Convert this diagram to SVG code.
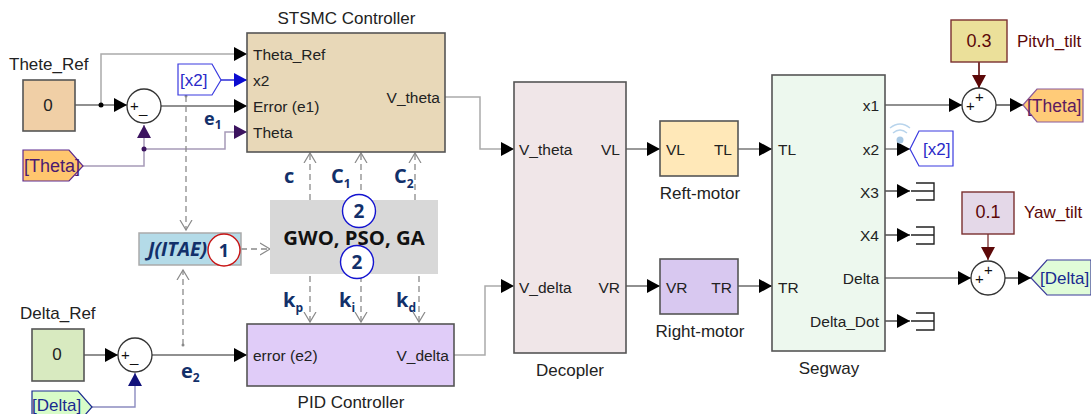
<svg xmlns="http://www.w3.org/2000/svg" width="1091" height="414" viewBox="0 0 1091 414">
<defs>
<marker id="ab" markerUnits="userSpaceOnUse" markerWidth="14" markerHeight="14" refX="13" refY="7" orient="auto"><path d="M0 0L13 7L0 14Z" fill="#000"/></marker>
<marker id="ablue" markerUnits="userSpaceOnUse" markerWidth="14" markerHeight="14" refX="13" refY="7" orient="auto"><path d="M0 0L13 7L0 14Z" fill="#0b0bd0"/></marker>
<marker id="apur" markerUnits="userSpaceOnUse" markerWidth="14" markerHeight="14" refX="13" refY="7" orient="auto"><path d="M0 0L13 7L0 14Z" fill="#3c1460"/></marker>
<marker id="anavy" markerUnits="userSpaceOnUse" markerWidth="14" markerHeight="14" refX="13" refY="7" orient="auto"><path d="M0 0L13 7L0 14Z" fill="#10107a"/></marker>
<marker id="ared" markerUnits="userSpaceOnUse" markerWidth="14" markerHeight="14" refX="13" refY="7" orient="auto"><path d="M0 0L13 7L0 14Z" fill="#5c0808"/></marker>
<marker id="opn" markerUnits="userSpaceOnUse" markerWidth="12" markerHeight="14" refX="10" refY="7" orient="auto"><path d="M0 1L10 7L0 13" fill="none" stroke="#8a8a8a" stroke-width="1.2"/></marker>
</defs>
<style>
text{font-family:"Liberation Sans",Arial,sans-serif;font-size:15.5px;fill:#222}
.b{stroke:#555;stroke-width:1.6}
.sum{fill:#fff;stroke:#333;stroke-width:1.3}
.w{fill:none;stroke:#222;stroke-width:1.2}
.g{fill:none;stroke:#aaa;stroke-width:1.5}
.d{fill:none;stroke:#8a8a8a;stroke-width:1.3;stroke-dasharray:6 4}
.m{font-family:"Open Sans","Noto Sans",sans-serif;font-weight:700;fill:#12306a}
.t{fill:none;stroke:#222;stroke-width:1.4}
.cap{font-size:17px}
.val{font-size:17px}
.op{font-size:15px;fill:#111}
</style>

<g id="connectors">
<path class="w" d="M75 105H127" marker-end="url(#ab)"/>
<path class="g" d="M101 105V54H247" marker-end="url(#ab)"/>
<circle cx="101" cy="105" r="2.5" fill="#000"/>
<path d="M221 80H247" fill="none" stroke="#0b0bd0" stroke-width="1.3" marker-end="url(#ablue)"/>
<path class="w" d="M161 106H247" marker-end="url(#ab)"/>
<path d="M83 166H144V125" fill="none" stroke="#a79ab8" stroke-width="1.5" marker-end="url(#apur)"/>
<path d="M144 149H225V132H247" fill="none" stroke="#a79ab8" stroke-width="1.5" marker-end="url(#apur)"/>
<circle cx="144" cy="149" r="2.5" fill="#3c1460"/>
<path class="d" d="M186 96V230" marker-end="url(#opn)"/>
<circle cx="186" cy="96" r="1.5" fill="#8a8a8a"/>
<path class="d" d="M183 345V270" marker-end="url(#opn)"/>
<circle cx="183" cy="345" r="1.5" fill="#8a8a8a"/>
<path class="d" d="M241 249H270" marker-end="url(#opn)"/>
<path class="d" d="M310 200V153" marker-end="url(#opn)"/>
<path class="d" d="M361 200V153" marker-end="url(#opn)"/>
<path class="d" d="M415 200V153" marker-end="url(#opn)"/>
<path class="d" d="M310 276V322" marker-end="url(#opn)"/>
<path class="d" d="M361 276V322" marker-end="url(#opn)"/>
<path class="d" d="M419 276V322" marker-end="url(#opn)"/>
<path class="w" d="M84 355H118" marker-end="url(#ab)"/>
<path class="w" d="M152 355H247" marker-end="url(#ab)"/>
<path d="M92 407H135V373" fill="none" stroke="#8c8cc0" stroke-width="1.4" marker-end="url(#anavy)"/>
<path class="g" d="M445 97H480V149H514" marker-end="url(#ab)"/>
<path class="g" d="M454 355H485V286H514" marker-end="url(#ab)"/>
<path d="M626 149H660" fill="none" stroke="#777" stroke-width="1.4" marker-end="url(#ab)"/>
<path d="M738 149H772" fill="none" stroke="#777" stroke-width="1.4" marker-end="url(#ab)"/>
<path class="w" d="M626 286H660" marker-end="url(#ab)"/>
<path class="w" d="M738 286H772" marker-end="url(#ab)"/>
<path class="w" d="M885 105H962" marker-end="url(#ab)"/>
<path class="w" d="M996 105H1023" marker-end="url(#ab)"/>
<path d="M979 62V88" fill="none" stroke="#5c0808" stroke-width="1.6" marker-end="url(#ared)"/>
<path d="M885 149H910" fill="none" stroke="#777" stroke-width="1.4" marker-end="url(#ab)"/>
<path class="w" d="M885 191H910" marker-end="url(#ab)"/>
<path class="w" d="M885 235H910" marker-end="url(#ab)"/>
<path d="M885 278H971" fill="none" stroke="#777" stroke-width="1.4" marker-end="url(#ab)"/>
<path class="w" d="M1005 278H1031" marker-end="url(#ab)"/>
<path d="M988 234V260" fill="none" stroke="#7a3030" stroke-width="1.3" marker-end="url(#ared)"/>
<path class="w" d="M885 321H910" marker-end="url(#ab)"/>
</g>

<g id="thete-ref"><rect class="b" x="23" y="80" width="52" height="51" fill="#f0cfa6"/><text class="val" x="48" y="111" text-anchor="middle">0</text><text class="cap" x="9" y="70">Thete_Ref</text></g>
<g id="sum1"><circle class="sum" cx="144" cy="106" r="17"/><text class="op" x="130" y="111">+</text><text class="op" x="139" y="113">_</text></g>
<g id="goto-x2-in"><path d="M178 64H212L221 80L212 95H178Z" fill="#fff" stroke="#3a3ae0" stroke-width="1.2"/><text x="180" y="86" style="font-size:17px;fill:#2a2ac8">[x2]</text></g>
<g id="from-theta"><path d="M23 150H69L83 166L69 181H23Z" fill="#ffc66e" stroke="#5c2a90" stroke-width="1.2"/><text x="24" y="172" style="font-size:18px;fill:#4a1a70">[Theta]</text></g>
<g id="stsmc"><rect class="b" x="247" y="33" width="198" height="119" fill="#e8d8b8"/>
<text class="cap" x="346.500" y="24" text-anchor="middle">STSMC Controller</text>
<text x="253" y="60">Theta_Ref</text><text x="253" y="86">x2</text><text x="253" y="112">Error (e1)</text><text x="253" y="138">Theta</text><text x="440" y="103" text-anchor="end">V_theta</text></g>
<text class="m" x="204" y="125" style="font-size:18px">e<tspan dy="4" style="font-size:12px">1</tspan></text>

<g id="jitae"><rect x="139" y="233" width="102" height="32" fill="#b4dbe8" stroke="#aaa" stroke-width="1.5"/><text class="m" x="148" y="256" style="font-size:19.500px;font-style:italic">J(ITAE)</text><circle cx="224" cy="250" r="16" fill="#fff" stroke="#c81414" stroke-width="1.4"/><text class="m" x="224" y="257" text-anchor="middle" style="font-size:18px">1</text></g>

<g id="optimizer"><rect x="270" y="200" width="168" height="74" fill="#d8d8d8"/><text x="354" y="245" text-anchor="middle" style="font-family:'Open Sans','Noto Sans',sans-serif;font-weight:700;font-size:20.300px;fill:#111">GWO, PSO, GA</text>
<circle cx="359" cy="211" r="16.500" fill="#fff" stroke="#1414d0" stroke-width="1.4"/><text class="m" x="359" y="218" text-anchor="middle" style="font-size:19px">2</text>
<circle cx="357" cy="262" r="16.500" fill="#fff" stroke="#1414d0" stroke-width="1.4"/><text class="m" x="357" y="269" text-anchor="middle" style="font-size:19px">2</text></g>

<text class="m" x="284" y="183" style="font-size:20px">c</text>
<text class="m" x="331" y="183" style="font-size:20px">C<tspan dy="5" style="font-size:12px">1</tspan></text>
<text class="m" x="394" y="183" style="font-size:20px">C<tspan dy="5" style="font-size:12px">2</tspan></text>
<text class="m" x="283" y="307" style="font-size:20px">k<tspan dy="5" style="font-size:12px">p</tspan></text>
<text class="m" x="339" y="307" style="font-size:20px">k<tspan dy="5" style="font-size:12px">i</tspan></text>
<text class="m" x="396" y="307" style="font-size:20px">k<tspan dy="5" style="font-size:12px">d</tspan></text>

<g id="delta-ref"><rect class="b" x="32" y="329" width="52" height="52" fill="#d8eac0"/><text class="val" x="57" y="360" text-anchor="middle">0</text><text class="cap" x="20" y="319">Delta_Ref</text></g>
<g id="sum2"><circle class="sum" cx="135" cy="355" r="17"/><text class="op" x="121" y="360">+</text><text class="op" x="130" y="362">_</text></g>
<g id="from-delta"><path d="M32 391H78L92 407L78 423H32Z" fill="#d8fcc8" stroke="#1a2a90" stroke-width="1.2"/><text x="32" y="411" style="font-size:17px;fill:#1a2a90">[Delta]</text></g>
<text class="m" x="181" y="378" style="font-size:20px">e<tspan dy="4" style="font-size:12px">2</tspan></text>
<g id="pid"><rect class="b" x="247" y="324" width="207" height="62" fill="#e0ccf8"/><text x="253" y="361">error (e2)</text><text x="449" y="361" text-anchor="end">V_delta</text><text class="cap" x="351" y="408" text-anchor="middle">PID Controller</text></g>

<g id="decopler"><rect class="b" x="514" y="82" width="112" height="271" fill="#f0e6e8"/><text x="519" y="155">V_theta</text><text x="519" y="293">V_delta</text><text x="620" y="155" text-anchor="end">VL</text><text x="620" y="293" text-anchor="end">VR</text><text class="cap" x="570" y="376" text-anchor="middle">Decopler</text></g>
<g id="reft-motor"><rect class="b" x="660" y="121" width="78" height="55" fill="#ffe8b8"/><text x="666" y="155">VL</text><text x="732" y="155" text-anchor="end">TL</text><text class="cap" x="700" y="199" text-anchor="middle">Reft-motor</text></g>
<g id="right-motor"><rect class="b" x="660" y="259" width="78" height="55" fill="#d8c8f0"/><text x="666" y="293">VR</text><text x="732" y="293" text-anchor="end">TR</text><text class="cap" x="700" y="337" text-anchor="middle">Right-motor</text></g>
<g id="segway"><rect class="b" x="772" y="75" width="113" height="276" fill="#edf8ee"/><text x="778" y="155">TL</text><text x="778" y="293">TR</text>
<text x="879" y="111" text-anchor="end">x1</text><text x="879" y="155" text-anchor="end">x2</text><text x="879" y="198" text-anchor="end">X3</text><text x="879" y="241" text-anchor="end">X4</text><text x="879" y="284" text-anchor="end">Delta</text><text x="879" y="327" text-anchor="end">Delta_Dot</text><text class="cap" x="829" y="374" text-anchor="middle">Segway</text></g>

<g id="wifi"><circle cx="900" cy="140" r="3.500" fill="#a8c8e4"/><path d="M893 133Q900 127 907 133M890 128Q900 120 910 128" fill="none" stroke="#b8d4ec" stroke-width="1.4"/></g>
<g id="goto-x2"><path d="M910 149L919 131H953V166H919Z" fill="#fff" stroke="#3a3ae0" stroke-width="1.2"/><text x="923" y="155" style="font-size:17px;fill:#2a2ac8">[x2]</text></g>
<g id="term3"><path class="t" d="M911 191H934M916 183H934V200H916"/></g>
<g id="term4"><path class="t" d="M911 235H934M916 227H934V244H916"/></g>
<g id="term6"><path class="t" d="M911 321H934M916 313H934V330H916"/></g>

<g id="pitch-tilt"><rect x="951" y="20" width="56" height="42" fill="#ebe09a" stroke="#7a3030" stroke-width="1.4"/><text x="979" y="47" text-anchor="middle" style="font-size:18px;fill:#5c0808">0.3</text><text class="cap" x="1017" y="47" style="fill:#5c0808">Pitvh_tilt</text></g>
<g id="sum3"><circle class="sum" cx="979" cy="105" r="17"/><text class="op" x="966" y="111">+</text><text class="op" x="975" y="102">+</text></g>
<g id="goto-theta"><path d="M1023 105L1037 89H1083V122H1037Z" fill="#ffcb78" stroke="#8a5a9a" stroke-width="1.2"/><text x="1027" y="112" style="font-size:17.500px;fill:#5c1a60">[Theta]</text></g>
<g id="yaw-tilt"><rect x="962" y="192" width="52" height="42" fill="#e4d8e8" stroke="#7a3030" stroke-width="1.4"/><text x="988" y="218" text-anchor="middle" style="font-size:18px;fill:#5c0808">0.1</text><text class="cap" x="1024" y="218" style="fill:#5c0808">Yaw_tilt</text></g>
<g id="sum4"><circle class="sum" cx="988" cy="278" r="17"/><text class="op" x="975" y="284">+</text><text class="op" x="984" y="275">+</text></g>
<g id="goto-delta"><path d="M1031 278L1047 260H1091V295H1047Z" fill="#e0fcd8" stroke="#3a3a9a" stroke-width="1.2"/><text x="1040" y="284" style="font-size:17px;fill:#1a2a90">[Delta]</text></g>
</svg>
